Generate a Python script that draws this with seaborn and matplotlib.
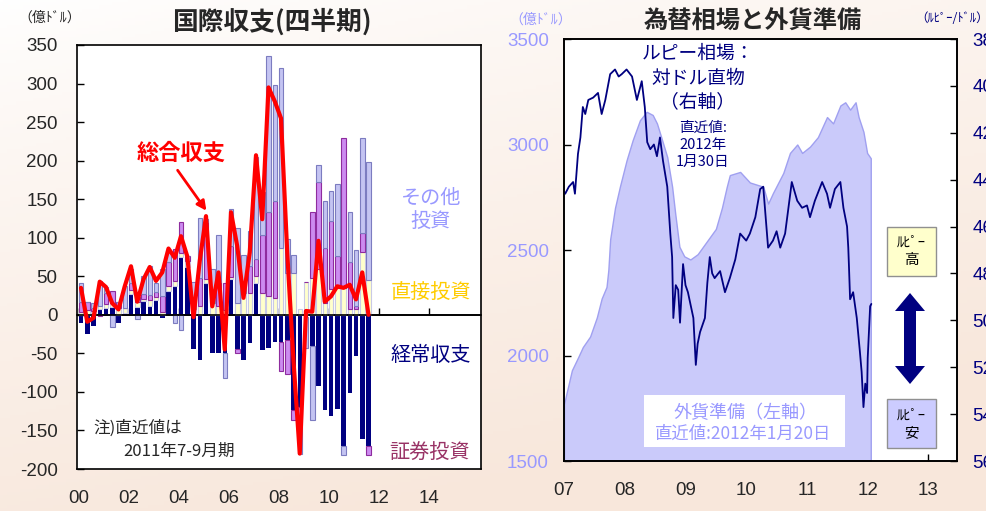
import numpy as np
import pandas as pd
import matplotlib
matplotlib.use("Agg")
import matplotlib.pyplot as plt
import seaborn as sns
from matplotlib.patches import Rectangle, Polygon

# ---------------- data (left panel: quarterly balance of payments, 100 mn USD) ----------------
quarters = [f"{2000 + i // 4}Q{i % 4 + 1}" for i in range(47)]  # 2000Q1 .. 2011Q3
current_account = [-11, -25, -15, 7, 9, 10, -10, 3, 27, 10, 18, 12, 19, -4, 31, 38, 75, 62, -44, -59,
                   41, -49, -49, -49, 46, -44, -59, -36, 41, -46, -43, -35, -35, -33, -124, -120, -3,
                   -41, -92, -123, -131, -122, -170, -102, -54, -161, -170]
direct_inv = [4, 6, 5, 5, 5, 5, 9, 6, 5, 6, 3, 7, 4, 4, 7, 6, 5, 8, 8, 11, 6, 15, 12, 6, 3, 15, 28, 28,
              9, 28, 24, 22, 87, 54, 54, 7, 42, 48, 59, 15, 33, 35, 35, 7, 7, 81, 45]
portfolio_inv = [13, 10, 4, -2, 14, 16, 8, 0, 9, 7, 6, 7, 7, 20, 30, 41, 40, 6, 0, 37, 74, 0, 30, 35,
                 40, -6, 0, 35, 22, 76, 109, 126, -38, -44, -13, -10, 0, 85, 113, 72, 89, 41, 195, 62,
                 4, 25, -12]
other_inv = [24, 0, 6, 32, 8, -16, 0, 29, 18, -6, 23, 37, 11, 35, 15, -11, -20, 0, 34, 78, 3, 44, 62,
             -33, 48, 98, 50, 46, 133, 55, 203, 150, 233, 44, 24, -50, -40, -96, 22, 60, 38, 94, -12,
             65, 73, 123, 153]
overall_balance = [35, -9, -4, 43, 36, 15, 7, 37, 63, 17, 46, 62, 44, 55, 86, 74, 102, 76, -3, 70, 128,
                   11, 55, -45, 133, 89, 22, 81, 207, 124, 295, 277, 255, 80, -60, -180, 5, 4, 96, 17,
                   24, 37, 35, 39, 20, 55, 0]
left_years = [2000, 2002, 2004, 2006, 2008, 2010, 2012, 2014]
left_year_labels = ["00", "02", "04", "06", "08", "10", "12", "14"]
left_yticks = [-200, -150, -100, -50, 0, 50, 100, 150, 200, 250, 300, 350]

# ---------------- data (right panel) ----------------
reserve_t = [2007.00, 2007.13, 2007.23, 2007.31, 2007.43, 2007.54, 2007.62, 2007.70, 2007.73, 2007.76,
             2007.84, 2007.92, 2008.03, 2008.13, 2008.25, 2008.36, 2008.46, 2008.53, 2008.60, 2008.70,
             2008.78, 2008.83, 2008.90, 2008.98, 2009.08, 2009.20, 2009.30, 2009.40, 2009.50, 2009.60,
             2009.68, 2009.73, 2009.90, 2010.06, 2010.28, 2010.36, 2010.44, 2010.61, 2010.72, 2010.84,
             2010.92, 2011.05, 2011.18, 2011.33, 2011.43, 2011.55, 2011.63, 2011.71, 2011.80, 2011.85,
             2011.93, 2011.99, 2012.05]
reserve_v = [1770, 1930, 1990, 2040, 2090, 2180, 2270, 2325, 2405, 2550, 2700, 2800, 2925, 3020, 3115,
             3155, 3140, 3100, 3035, 2940, 2800, 2675, 2515, 2470, 2455, 2480, 2520, 2560, 2600, 2700,
             2800, 2855, 2870, 2820, 2800, 2720, 2770, 2865, 2960, 3000, 2960, 2990, 3035, 3130, 3100,
             3185, 3200, 3165, 3200, 3130, 3060, 2960, 2935]
rate_t = [2007.00, 2007.02, 2007.08, 2007.15, 2007.18, 2007.23, 2007.27, 2007.31, 2007.35, 2007.40,
          2007.48, 2007.56, 2007.62, 2007.68, 2007.76, 2007.84, 2007.90, 2007.95, 2008.03, 2008.12,
          2008.20, 2008.28, 2008.33, 2008.37, 2008.42, 2008.48, 2008.53, 2008.58, 2008.63, 2008.70,
          2008.75, 2008.78, 2008.80, 2008.84, 2008.88, 2008.91, 2008.96, 2009.00, 2009.04, 2009.13,
          2009.17, 2009.20, 2009.24, 2009.32, 2009.36, 2009.40, 2009.44, 2009.48, 2009.57, 2009.65,
          2009.73, 2009.82, 2009.90, 2010.00, 2010.06, 2010.15, 2010.23, 2010.28, 2010.36, 2010.44,
          2010.50, 2010.56, 2010.64, 2010.75, 2010.84, 2010.92, 2011.00, 2011.05, 2011.13, 2011.25,
          2011.33, 2011.38, 2011.46, 2011.55, 2011.60, 2011.66, 2011.68, 2011.69, 2011.71, 2011.76,
          2011.82, 2011.87, 2011.90, 2011.93, 2011.96, 2011.99, 2012.00, 2012.04, 2012.06]
rate_v = [44.5, 44.6, 44.3, 44.1, 44.6, 42.9, 42.2, 40.9, 41.2, 40.6, 40.5, 40.3, 41.2, 40.6, 39.5,
          39.3, 39.6, 39.5, 39.3, 39.6, 40.6, 39.8, 40.9, 42.4, 42.7, 42.5, 43.0, 42.2, 43.2, 44.3,
          46.3, 47.3, 49.9, 48.5, 48.7, 50.1, 47.6, 48.5, 48.8, 49.9, 51.9, 51.0, 50.5, 49.9, 48.4,
          47.3, 48.0, 48.2, 47.9, 48.8, 48.2, 47.4, 46.3, 46.6, 46.3, 45.6, 44.4, 44.3, 46.9, 46.6,
          46.2, 46.9, 46.3, 44.1, 44.9, 45.2, 45.1, 45.6, 44.9, 44.1, 44.6, 45.2, 44.4, 44.1, 45.2,
          46.0, 46.9, 47.6, 49.1, 48.8, 49.9, 51.3, 52.2, 53.7, 52.7, 53.1, 51.6, 49.4, 49.3]
right_years = [2007, 2008, 2009, 2010, 2011, 2012, 2013]
right_year_labels = ["07", "08", "09", "10", "11", "12", "13"]
reserve_ticks = [1500, 2000, 2500, 3000, 3500]
rate_ticks = [38, 40, 42, 44, 46, 48, 50, 52, 54, 56]

# ---------------- style ----------------
sns.set_theme(style="white")
plt.rcParams["font.family"] = ["Noto Sans CJK JP", "DejaVu Sans"]
NUMFONT = "Liberation Sans"

W, H = 987, 511
fig = plt.figure(figsize=(W / 100, H / 100), dpi=100)


def fx(px):
    return px / W


def fy(py):
    return 1 - py / H


# background gradient
bg = fig.add_axes([0, 0, 1, 1], zorder=-10)
xs = np.linspace(0, 1, 300)[None, :]
ys = np.linspace(0, 1, 160)[:, None]
t = np.clip(0.35 * xs + 0.85 * ys, 0, 1) ** 0.8
c0 = np.array([255, 255, 255]) / 255
c1 = np.array([248, 231, 219]) / 255
img = c0[None, None, :] * (1 - t[..., None]) + c1[None, None, :] * t[..., None]
bg.imshow(img, extent=(0, 1, 0, 1), aspect="auto", origin="upper")
bg.axis("off")

# ================= left panel =================
ax1 = fig.add_axes([fx(77), fy(469), fx(481) - fx(77), fy(45) - fy(469)])
ax1.set_facecolor("white")
df = pd.DataFrame({"quarter": quarters, "ca": current_account, "fdi": direct_inv,
                   "port": portfolio_inv, "other": other_inv, "total": overall_balance})
df["x"] = df["quarter"].map(lambda q: int(q[:4]) + (int(q[-1]) - 1) * 0.25 + 0.08)

series = [("ca", "#000080", "#000080", 0.0),
          ("fdi", "#FFFFCC", "#C9C9E6", 0.8),
          ("port", "#CC8BF0", "#8E2C9E", 0.8),
          ("other", "#C4C4F2", "#7C7CC0", 0.8)]
pos_bottom = np.zeros(len(df))
neg_bottom = np.zeros(len(df))
for col, fc, ec, lw in series:
    v = df[col].to_numpy(dtype=float)
    bottom = np.where(v >= 0, pos_bottom, neg_bottom)
    ax1.bar(df["x"], v, bottom=bottom, width=0.18, color=fc, edgecolor=ec, linewidth=lw, zorder=2)
    pos_bottom = pos_bottom + np.where(v >= 0, v, 0)
    neg_bottom = neg_bottom + np.where(v < 0, v, 0)

ax1.axhline(0, color="black", lw=1.2, zorder=3)
sns.lineplot(data=df, x="x", y="total", ax=ax1, color="#FF0000", lw=3, zorder=4, sort=False)

ax1.set_xlim(1999.92, 2016.08)
ax1.set_ylim(-200, 350)
ax1.set_xlabel("")
ax1.set_ylabel("")
ax1.set_yticks(left_yticks)
ax1.set_yticklabels([str(v) for v in left_yticks], fontfamily=NUMFONT, fontsize=13.5)
ax1.tick_params(axis="y", direction="in", length=5, width=1, color="black", pad=14, left=True)
ax1.set_xticks(left_years)
ax1.set_xticklabels(left_year_labels, fontfamily=NUMFONT, fontsize=13.5)
ax1.tick_params(axis="x", length=0, pad=15, bottom=False)
for s in ax1.spines.values():
    s.set_color("black")
    s.set_linewidth(1.2)
sec = ax1.secondary_xaxis(200 / 550)
sec.set_xticks(left_years)
sec.set_xticklabels([""] * len(left_years))
sec.tick_params(direction="in", length=5, width=1, color="black")
for s in sec.spines.values():
    s.set_linewidth(1.2)
    s.set_color("black")

# left panel texts
fig.text(fx(272), fy(22), "国際収支(四半期)", fontsize=18.5, fontweight="bold", ha="center", va="center")
fig.text(fx(50), fy(18), "（億ﾄﾞﾙ）", fontsize=10, ha="center", va="center")
fig.text(fx(181), fy(153), "総合収支", fontsize=16, fontweight="bold", color="#FF0000",
         ha="center", va="center")
ax1.annotate("", xy=(fx(208), fy(213)), xycoords="figure fraction",
             xytext=(fx(176), fy(168)), textcoords="figure fraction",
             arrowprops=dict(arrowstyle="-|>", color="#FF0000", lw=2, mutation_scale=14))
fig.text(fx(431), fy(210), "その他\n投資", fontsize=14.5, color="#9999FF", ha="center", va="center",
         linespacing=1.15)
fig.text(fx(431), fy(293), "直接投資", fontsize=14.5, color="#FFCC00", ha="center", va="center")
fig.text(fx(431), fy(355), "経常収支", fontsize=14.5, color="#000080", ha="center", va="center")
fig.text(fx(430), fy(453), "証券投資", fontsize=14.5, color="#993366", ha="center", va="center")
fig.text(fx(93), fy(428), "注)直近値は", fontsize=12, ha="left", va="center")
fig.text(fx(123), fy(451), "2011年7-9月期", fontsize=12, ha="left", va="center")

# ================= right panel =================
ax2 = fig.add_axes([fx(564), fy(461), fx(957) - fx(564), fy(39) - fy(461)])
ax2.set_facecolor("white")
res = pd.DataFrame({"t": reserve_t, "v": reserve_v})
ax2.fill_between(res["t"], 1500, res["v"], facecolor="#CACAFA", edgecolor="#A0A0F0", lw=1, zorder=1)
ax2.set_xlim(2007, 2013.47)
ax2.set_ylim(1500, 3500)
ax2.set_yticks(reserve_ticks)
ax2.set_yticklabels([str(v) for v in reserve_ticks], fontfamily=NUMFONT, fontsize=13.5, color="#9999FF")
ax2.tick_params(axis="y", direction="in", length=5, width=1, color="black", pad=11, left=True)
ax2.set_xticks(right_years)
ax2.set_xticklabels(right_year_labels, fontfamily=NUMFONT, fontsize=13.5)
ax2.tick_params(axis="x", direction="in", length=5, width=1, color="black", pad=15, bottom=True)
for s in ax2.spines.values():
    s.set_color("black")
    s.set_linewidth(1.2)

ax2r = ax2.twinx()
rate = pd.DataFrame({"t": rate_t, "v": rate_v})
sns.lineplot(data=rate, x="t", y="v", ax=ax2r, color="#000080", lw=1.3, sort=False)
ax2r.set_ylim(56, 38)
ax2r.set_xlim(2007, 2013.47)
ax2r.set_ylabel("")
ax2r.set_xlabel("")
ax2r.set_yticks(rate_ticks)
ax2r.set_yticklabels([str(v) for v in rate_ticks], fontfamily=NUMFONT, fontsize=13.5, color="#000080")
ax2r.tick_params(axis="y", direction="in", length=5, width=1, color="black", pad=11, right=True)
for s in ax2r.spines.values():
    s.set_color("black")
    s.set_linewidth(1.2)
ax2r.grid(False)
ax2.grid(False)

# right panel texts
fig.text(fx(753), fy(22), "為替相場と外貨準備", fontsize=17.5, fontweight="bold", ha="center", va="center")
fig.text(fx(541), fy(20), "（億ﾄﾞﾙ）", fontsize=10, color="#9999FF", ha="center", va="center")
fig.text(fx(915), fy(18), "（ﾙﾋﾟｰ/ﾄﾞﾙ）", fontsize=9, color="#000080", ha="left", va="center")
fig.text(fx(698), fy(78), "ルピー相場：\n対ドル直物\n（右軸）", fontsize=13.5, color="#000080",
         ha="center", va="center", linespacing=1.2)
fig.text(fx(703), fy(145), "直近値:\n2012年\n1月30日", fontsize=10.5, color="#000080",
         ha="center", va="center", linespacing=1.25)
fig.add_artist(Rectangle((fx(644), fy(447)), fx(845) - fx(644), fy(395) - fy(447),
                         transform=fig.transFigure, facecolor="white", edgecolor="none", zorder=5))
fig.text(fx(745), fy(413), "外貨準備（左軸）", fontsize=13, color="#9999FF", ha="center", va="center",
         zorder=6)
fig.text(fx(743), fy(434), "直近値:2012年1月20日", fontsize=12.5, color="#9999FF", ha="center",
         va="center", zorder=6)
fig.add_artist(Rectangle((fx(887), fy(276)), fx(936) - fx(887), fy(227) - fy(276),
                         transform=fig.transFigure, facecolor="#FFFFCC", edgecolor="#909090",
                         lw=1, zorder=5))
fig.text(fx(911.5), fy(251), "ﾙﾋﾟｰ\n高", fontsize=10.5, color="black", ha="center", va="center",
         zorder=6, linespacing=1.3)
fig.add_artist(Rectangle((fx(887), fy(448)), fx(936) - fx(887), fy(399) - fy(448),
                         transform=fig.transFigure, facecolor="#CCCCFF", edgecolor="#909090",
                         lw=1, zorder=5))
fig.text(fx(911.5), fy(424), "ﾙﾋﾟｰ\n安", fontsize=10.5, color="black", ha="center", va="center",
         zorder=6, linespacing=1.3)
arrow_px = [(910, 293), (925, 311), (916, 311), (916, 366), (925, 366), (910, 384),
            (895, 366), (904, 366), (904, 311), (895, 311)]
fig.add_artist(Polygon([(fx(a), fy(b)) for a, b in arrow_px], closed=True,
                       transform=fig.transFigure, facecolor="#000080", edgecolor="none", zorder=5))

fig.savefig("out.png", dpi=100)
